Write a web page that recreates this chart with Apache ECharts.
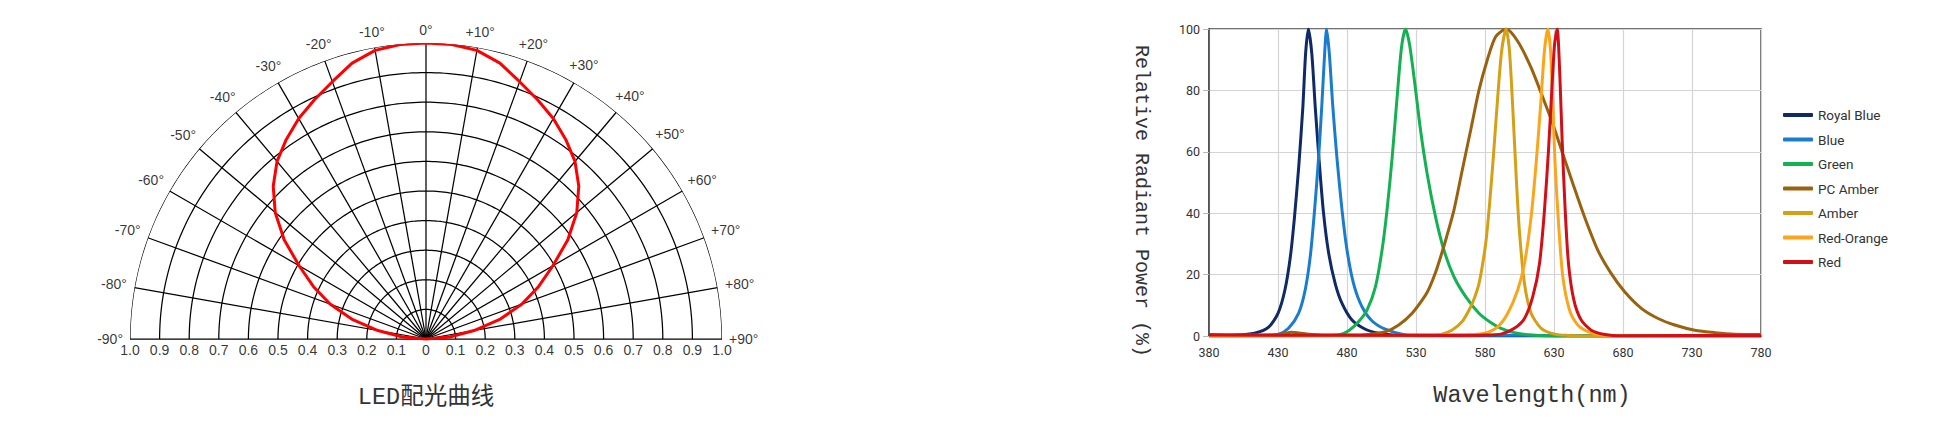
<!DOCTYPE html>
<html><head><meta charset="utf-8">
<script src="https://cdn.jsdelivr.net/npm/echarts@6/dist/echarts.min.js"></script>
<style>html,body{margin:0;padding:0;background:#fff}#c{width:1944px;height:434px}</style>
</head><body><div id="c"></div>
<script>
// ---------- Polar (LED light distribution) data ----------
const polarAngles = [-90,-85,-80,-75,-70,-65,-60,-55,-50,-45,-40,-35,-30,-25,-20,-15,-10,-5,0,5,10,15,20,25,30,35,40,45,50,55,60,65,70,75,80,85,90];
const polarIntensity = [0.0,0.08,0.165,0.26,0.345,0.42,0.495,0.585,0.665,0.73,0.783,0.823,0.86,0.892,0.925,0.965,0.99,0.999,1.0,0.999,0.99,0.965,0.925,0.892,0.86,0.823,0.783,0.73,0.665,0.585,0.495,0.42,0.345,0.26,0.165,0.08,0.0];
const polarRings = [0.1,0.2,0.3,0.4,0.5,0.6,0.7,0.8,0.9,1.0];
const polarSpokes = [-90,-80,-70,-60,-50,-40,-30,-20,-10,0,10,20,30,40,50,60,70,80,90];
const polarAngleLabels = ['-90°','-80°','-70°','-60°','-50°','-40°','-30°','-20°','-10°','0°','+10°','+20°','+30°','+40°','+50°','+60°','+70°','+80°','+90°'];
const polarRadiusTicks = [0.1,0.2,0.3,0.4,0.5,0.6,0.7,0.8,0.9,1.0];
const polarRadiusLabels = ['0.1','0.2','0.3','0.4','0.5','0.6','0.7','0.8','0.9','1.0'];

// ---------- Spectrum data: [wavelength nm, relative power %] ----------
const xTicks = [380,430,480,530,580,630,680,730,780];
const yTicks = [0,20,40,60,80,100];
const seriesNames = ['Royal Blue','Blue','Green','PC Amber','Amber','Red-Orange','Red'];
const seriesColors = ['#0f2a66','#1a7dcc','#13b152','#9a620f','#d6a016','#fba51c','#d20f17'];
const royalBlue = [[380,0.2],[400,0.3],[413,0.9],[423,2.8],[430,7.4],[435,15],[439,26],[442,39],[445,55],[448,74.5],[450,92],[452,100],[454.5,92],[457,74.5],[460,56],[463,40],[466.7,27],[471.5,17],[476.4,10.6],[483.6,5.2],[493.3,2.2],[503,0.9],[513,0.3],[530,0.1],[600,0],[780,0]];
const blue = [[380,0],[420,0.2],[430.4,0.6],[437.6,2.5],[444.9,7.4],[449.7,15],[453.4,26],[456.5,41],[459.4,58],[461.8,75.5],[463.8,92],[465.2,100],[467.2,92],[469.6,75.5],[472.7,58],[476.4,41],[480,28],[484.8,17],[490.9,9.5],[498.2,4.9],[507.8,2.2],[520,0.6],[532,0.3],[560,0.3],[620,0.2],[640,0],[780,0]];
const green = [[380,0],[460,0.1],[473.9,0.3],[481.2,1.7],[488.5,4.7],[494.5,8.4],[500.6,16],[505.4,28],[509,41],[512.7,58],[516.3,77.7],[519.5,94],[522.4,100],[525.3,95],[529.2,82],[533.3,67],[538.1,52.8],[544.2,38.7],[550.2,28],[557.5,19.3],[566,12.8],[575.6,7.4],[584.4,4.3],[591.6,2.5],[601.3,1.1],[613.4,0.3],[630,0],[780,0]];
const pcAmber = [[380,0.5],[400,0.3],[430,0.4],[440,1.2],[445,1.0],[455,0.5],[470,0.3],[493,0.4],[507.8,1.4],[517.5,3.6],[527.2,7.4],[536.9,13.3],[540,16],[544,20.5],[548,26],[552,32],[557.5,41],[563.5,54],[569.6,67],[575.6,80],[581.7,90],[587.7,97.5],[595.3,100],[603.7,96],[613.4,87.4],[621.9,77.7],[629.2,69],[636.4,59.3],[643.7,49.6],[652.2,38.7],[661.8,27.9],[671.5,20.3],[681.2,14.4],[693.3,9],[705.4,5.7],[717.5,3.6],[732,1.9],[746.6,1.1],[761,0.6],[780,0.5]];
const amber = [[380,0],[540,0],[548,0.5],[556,1.9],[563.5,4.7],[568.4,8.4],[572,12],[575.6,17],[578.5,24],[581,32],[583.5,44],[586,58],[589.2,77.7],[592.1,93],[595.3,100],[597.7,93],[600.1,74.5],[602.5,52.8],[604.9,34.4],[608.6,17.1],[613.4,7.4],[620.7,2.5],[630.4,0.6],[640,0.2],[660,0],[780,0]];
const redOrange = [[380,0],[560,0.2],[580,0.9],[589.2,3],[596.5,7.4],[603.7,15],[608.6,23.6],[613.4,38.7],[617,56],[620.2,74.5],[623.1,93],[625.5,100],[627.5,93],[629.2,74.5],[630.8,56],[633.3,36.6],[636.4,19.3],[641.3,8.4],[647.3,3.6],[654.6,1.4],[664.3,0.3],[680,0],[780,0]];
const red = [[380,0.3],[560,0.2],[580,0.3],[591.6,0.6],[601.3,2.5],[608.6,5.7],[614.6,12.8],[619.5,23.6],[623.1,41],[626,60.4],[628.4,80],[630.4,95],[632.3,100],[634.2,85.3],[635.9,63.6],[638.1,41],[640.5,23.6],[644.4,11.7],[649.7,5.2],[657,1.9],[666.8,0.5],[680,0.1],[780,0.2]];
const spectra = [royalBlue, blue, green, pcAmber, amber, redOrange, red];

// ---------- layout ----------
const PC = [426, 339], PR = 296;
const LF = '"Liberation Sans", Arial, sans-serif';
const ctx = document.createElement('canvas').getContext('2d');
ctx.font = '14px ' + LF;

const sweep = [];
for (let a = -90; a <= 90; a += 1) sweep.push(a);

const series = [];
polarRings.forEach(r => series.push({
  type:'line', coordinateSystem:'polar', polarIndex:0, silent:true, symbol:'none', clip:false,
  data: sweep.map(a => [r, a]), lineStyle:{color:'#000', width:1.25}, z:1
}));
polarSpokes.forEach(a => series.push({
  type:'line', coordinateSystem:'polar', polarIndex:0, silent:true, symbol:'none', clip:false,
  data: [[0, a], [1, a]], lineStyle:{color:'#000', width:1.25}, z:1
}));
series.push({
  type:'line', coordinateSystem:'polar', polarIndex:0, silent:true, symbol:'none', smooth:false, clip:false,
  data: polarAngles.map((a, i) => [polarIntensity[i], a]),
  lineStyle:{color:'#ff0000', width:3, join:'round'}, z:5
});
// angle labels
series.push({
  type:'scatter', coordinateSystem:'polar', polarIndex:0, silent:true, symbolSize:1, clip:false,
  itemStyle:{color:'rgba(0,0,0,0)'},
  data: polarSpokes.map((a, i) => {
    const w = ctx.measureText(polarAngleLabels[i]).width, h = 13;
    const rad = a * Math.PI / 180;
    const ext = 7 + (w / 2) * Math.abs(Math.sin(rad)) + (h / 2) * Math.abs(Math.cos(rad));
    return {value:[1 + ext / PR, a], name: polarAngleLabels[i]};
  }),
  label:{show:true, position:'inside', formatter:'{b}', color:'#000', fontSize:14, fontFamily:LF}, z:6
});
// radius labels along baseline
const baseData = [{value:[0, 0], name:'0'}];
polarRadiusTicks.forEach((r, i) => {
  baseData.push({value:[r, -90], name: polarRadiusLabels[i]});
  baseData.push({value:[r, 90], name: polarRadiusLabels[i]});
});
series.push({
  type:'scatter', coordinateSystem:'polar', polarIndex:0, silent:true, symbolSize:1, clip:false,
  itemStyle:{color:'rgba(0,0,0,0)'}, data: baseData,
  label:{show:true, position:'bottom', distance:3, formatter:'{b}', color:'#000', fontSize:14, fontFamily:LF}, z:6
});

// spectra
spectra.forEach((d, i) => series.push({
  type:'line', name: seriesNames[i], xAxisIndex:0, yAxisIndex:0, data: d,
  showSymbol:false, symbol:'none', smooth:0.25, color: seriesColors[i],
  lineStyle:{color: seriesColors[i], width:3}, z:3 + i * 0.01
}));

const chart = echarts.init(document.getElementById('c'), null, {renderer:'svg'});
chart.setOption({
  animation:false,
  backgroundColor:'#fff',
  polar:{center: PC, radius: PR},
  angleAxis:{min:-180, max:180, startAngle:270, clockwise:true, show:false},
  radiusAxis:{min:0, max:1, show:false},
  grid:{left:1209, top:29, width:552, height:307, show:true, borderColor:'#444', borderWidth:1.5, backgroundColor:'transparent'},
  xAxis:{type:'value', min:xTicks[0], max:xTicks[xTicks.length-1], interval:50,
    axisLine:{lineStyle:{color:'#444', width:1.5}}, axisTick:{show:false},
    axisLabel:{color:'#333', fontSize:12.5, fontFamily:'Roboto', margin:10},
    splitLine:{show:true, lineStyle:{color:'#d4d4d4', width:1.2}}},
  yAxis:{type:'value', min:yTicks[0], max:yTicks[yTicks.length-1], interval:20,
    axisLine:{show:true, lineStyle:{color:'#444', width:1.5}}, axisTick:{show:true, length:6, lineStyle:{color:'#bbb'}},
    axisLabel:{color:'#333', fontSize:12.5, fontFamily:'Roboto', margin:9},
    splitLine:{show:true, lineStyle:{color:'#d4d4d4', width:1.2}}},
  legend:{data: seriesNames, orient:'vertical', left:1783, top:107, padding:0, itemWidth:30, itemHeight:4, itemGap:8.5,
    icon:'roundRect', textStyle:{color:'#333', fontSize:13.5, fontFamily:'Roboto', lineHeight:16}},
  graphic:[
    {type:'text', x:426, y:397, silent:true, style:{text:'LED配光曲线', align:'center', verticalAlign:'middle',
      font:'23.5px "Liberation Mono", "Noto Sans CJK SC", monospace', fill:'#333'}},
    {type:'text', x:1532, y:395, silent:true, style:{text:'Wavelength(nm)', align:'center', verticalAlign:'middle',
      font:'23.5px "Liberation Mono", monospace', fill:'#333'}},
    {type:'text', x:1141, y:201, rotation:-Math.PI/2, silent:true, style:{text:'Relative Radiant Power (%)', align:'center', verticalAlign:'middle',
      font:'20px "Liberation Mono", monospace', fill:'#333'}}
  ],
  series: series
});
</script></body></html>
